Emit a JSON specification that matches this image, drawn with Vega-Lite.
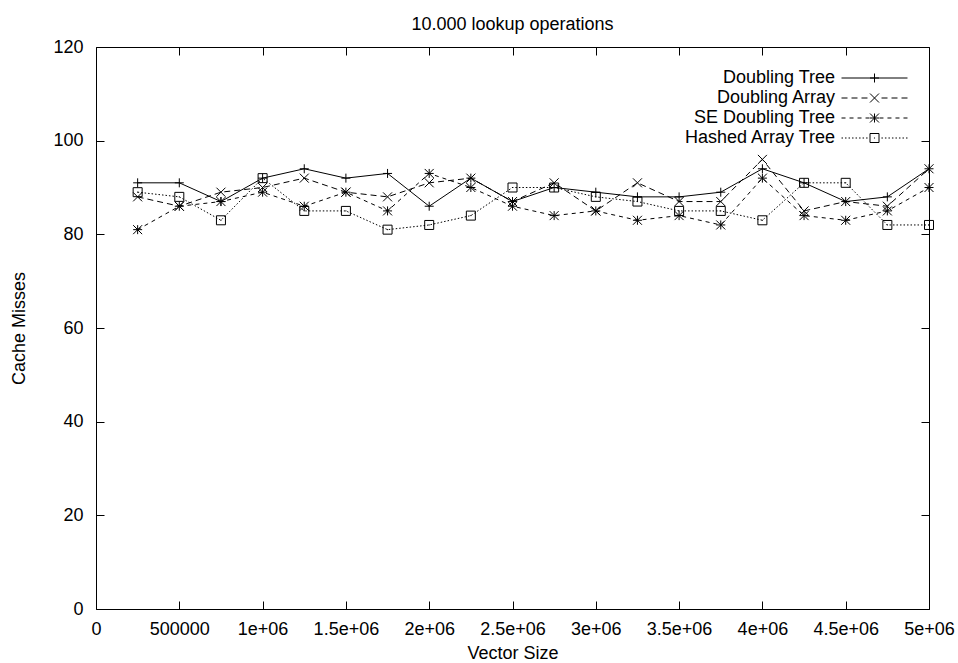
{
  "$schema": "https://vega.github.io/schema/vega-lite/v6.json",
  "width": 833,
  "height": 562,
  "autosize": "none",
  "padding": {"left": 96, "top": 47, "right": 29, "bottom": 54},
  "background": "white",
  "title": {"text": "10.000 lookup operations", "fontSize": 18, "font": "Liberation Sans", "fontWeight": "normal", "color": "black", "anchor": "middle", "frame": "group", "offset": 4},
  "config": {
    "font": "Liberation Sans",
    "view": {"stroke": "black", "strokeWidth": 1},
    "axis": {"domain": false, "grid": false, "tickColor": "black", "tickSize": -8, "tickWidth": 1, "labelFontSize": 18, "labelColor": "black", "titleFontSize": 18, "titleColor": "black", "titleFontWeight": "normal", "labelPadding": 21, "labelFlush": false, "labelOverlap": false, "labelBound": false}
  },
  "data": {"values": [
    {"x": 250000, "series": "Doubling Tree", "y": 91},
    {"x": 500000, "series": "Doubling Tree", "y": 91},
    {"x": 750000, "series": "Doubling Tree", "y": 87},
    {"x": 1000000, "series": "Doubling Tree", "y": 92},
    {"x": 1250000, "series": "Doubling Tree", "y": 94},
    {"x": 1500000, "series": "Doubling Tree", "y": 92},
    {"x": 1750000, "series": "Doubling Tree", "y": 93},
    {"x": 2000000, "series": "Doubling Tree", "y": 86},
    {"x": 2250000, "series": "Doubling Tree", "y": 92},
    {"x": 2500000, "series": "Doubling Tree", "y": 87},
    {"x": 2750000, "series": "Doubling Tree", "y": 90},
    {"x": 3000000, "series": "Doubling Tree", "y": 89},
    {"x": 3250000, "series": "Doubling Tree", "y": 88},
    {"x": 3500000, "series": "Doubling Tree", "y": 88},
    {"x": 3750000, "series": "Doubling Tree", "y": 89},
    {"x": 4000000, "series": "Doubling Tree", "y": 94},
    {"x": 4250000, "series": "Doubling Tree", "y": 91},
    {"x": 4500000, "series": "Doubling Tree", "y": 87},
    {"x": 4750000, "series": "Doubling Tree", "y": 88},
    {"x": 5000000, "series": "Doubling Tree", "y": 94},
    {"x": 250000, "series": "Doubling Array", "y": 88},
    {"x": 500000, "series": "Doubling Array", "y": 86},
    {"x": 750000, "series": "Doubling Array", "y": 89},
    {"x": 1000000, "series": "Doubling Array", "y": 90},
    {"x": 1250000, "series": "Doubling Array", "y": 92},
    {"x": 1500000, "series": "Doubling Array", "y": 89},
    {"x": 1750000, "series": "Doubling Array", "y": 88},
    {"x": 2000000, "series": "Doubling Array", "y": 91},
    {"x": 2250000, "series": "Doubling Array", "y": 92},
    {"x": 2500000, "series": "Doubling Array", "y": 87},
    {"x": 2750000, "series": "Doubling Array", "y": 91},
    {"x": 3000000, "series": "Doubling Array", "y": 85},
    {"x": 3250000, "series": "Doubling Array", "y": 91},
    {"x": 3500000, "series": "Doubling Array", "y": 87},
    {"x": 3750000, "series": "Doubling Array", "y": 87},
    {"x": 4000000, "series": "Doubling Array", "y": 96},
    {"x": 4250000, "series": "Doubling Array", "y": 85},
    {"x": 4500000, "series": "Doubling Array", "y": 87},
    {"x": 4750000, "series": "Doubling Array", "y": 86},
    {"x": 5000000, "series": "Doubling Array", "y": 94},
    {"x": 250000, "series": "SE Doubling Tree", "y": 81},
    {"x": 500000, "series": "SE Doubling Tree", "y": 86},
    {"x": 750000, "series": "SE Doubling Tree", "y": 87},
    {"x": 1000000, "series": "SE Doubling Tree", "y": 89},
    {"x": 1250000, "series": "SE Doubling Tree", "y": 86},
    {"x": 1500000, "series": "SE Doubling Tree", "y": 89},
    {"x": 1750000, "series": "SE Doubling Tree", "y": 85},
    {"x": 2000000, "series": "SE Doubling Tree", "y": 93},
    {"x": 2250000, "series": "SE Doubling Tree", "y": 90},
    {"x": 2500000, "series": "SE Doubling Tree", "y": 86},
    {"x": 2750000, "series": "SE Doubling Tree", "y": 84},
    {"x": 3000000, "series": "SE Doubling Tree", "y": 85},
    {"x": 3250000, "series": "SE Doubling Tree", "y": 83},
    {"x": 3500000, "series": "SE Doubling Tree", "y": 84},
    {"x": 3750000, "series": "SE Doubling Tree", "y": 82},
    {"x": 4000000, "series": "SE Doubling Tree", "y": 92},
    {"x": 4250000, "series": "SE Doubling Tree", "y": 84},
    {"x": 4500000, "series": "SE Doubling Tree", "y": 83},
    {"x": 4750000, "series": "SE Doubling Tree", "y": 85},
    {"x": 5000000, "series": "SE Doubling Tree", "y": 90},
    {"x": 250000, "series": "Hashed Array Tree", "y": 89},
    {"x": 500000, "series": "Hashed Array Tree", "y": 88},
    {"x": 750000, "series": "Hashed Array Tree", "y": 83},
    {"x": 1000000, "series": "Hashed Array Tree", "y": 92},
    {"x": 1250000, "series": "Hashed Array Tree", "y": 85},
    {"x": 1500000, "series": "Hashed Array Tree", "y": 85},
    {"x": 1750000, "series": "Hashed Array Tree", "y": 81},
    {"x": 2000000, "series": "Hashed Array Tree", "y": 82},
    {"x": 2250000, "series": "Hashed Array Tree", "y": 84},
    {"x": 2500000, "series": "Hashed Array Tree", "y": 90},
    {"x": 2750000, "series": "Hashed Array Tree", "y": 90},
    {"x": 3000000, "series": "Hashed Array Tree", "y": 88},
    {"x": 3250000, "series": "Hashed Array Tree", "y": 87},
    {"x": 3500000, "series": "Hashed Array Tree", "y": 85},
    {"x": 3750000, "series": "Hashed Array Tree", "y": 85},
    {"x": 4000000, "series": "Hashed Array Tree", "y": 83},
    {"x": 4250000, "series": "Hashed Array Tree", "y": 91},
    {"x": 4500000, "series": "Hashed Array Tree", "y": 91},
    {"x": 4750000, "series": "Hashed Array Tree", "y": 82},
    {"x": 5000000, "series": "Hashed Array Tree", "y": 82}
  ]},
  "layer": [
    {
      "transform": [{"filter": "datum.series === 'Doubling Tree'"}],
      "mark": {"type": "line", "stroke": "black", "strokeWidth": 1},
      "encoding": {
        "x": {"field": "x", "type": "quantitative", "scale": {"domain": [0, 5000000], "nice": false, "zero": false},
              "axis": {"orient": "bottom", "title": "Vector Size", "titlePadding": 6, "labelPadding": 19, "values": [0, 500000, 1000000, 1500000, 2000000, 2500000, 3000000, 3500000, 4000000, 4500000, 5000000],
                       "labelExpr": "datum.value == 0 ? '0' : datum.value < 1000000 ? '' + datum.value : (datum.value / 1000000) + 'e+06'"}},
        "y": {"field": "y", "type": "quantitative", "scale": {"domain": [0, 120], "nice": false, "zero": false},
              "axis": {"orient": "left", "title": "Cache Misses", "titlePadding": 24, "values": [0, 20, 40, 60, 80, 100, 120]}}
      }
    },
    {
      "transform": [{"filter": "datum.series === 'Doubling Array'"}],
      "mark": {"type": "line", "stroke": "black", "strokeWidth": 1, "strokeDash": [6, 4]},
      "encoding": {
        "x": {"field": "x", "type": "quantitative", "axis": null},
        "y": {"field": "y", "type": "quantitative", "axis": null}
      }
    },
    {
      "transform": [{"filter": "datum.series === 'SE Doubling Tree'"}],
      "mark": {"type": "line", "stroke": "black", "strokeWidth": 1, "strokeDash": [4, 4]},
      "encoding": {
        "x": {"field": "x", "type": "quantitative", "axis": null},
        "y": {"field": "y", "type": "quantitative", "axis": null}
      }
    },
    {
      "transform": [{"filter": "datum.series === 'Hashed Array Tree'"}],
      "mark": {"type": "line", "stroke": "black", "strokeWidth": 1, "strokeDash": [1.5, 2]},
      "encoding": {
        "x": {"field": "x", "type": "quantitative", "axis": null},
        "y": {"field": "y", "type": "quantitative", "axis": null}
      }
    },
    {
      "transform": [{"filter": "datum.series === 'Doubling Tree'"}],
      "mark": {"type": "point", "filled": false, "stroke": "black", "strokeWidth": 1, "size": 81, "opacity": 1, "shape": "M-1,0H1M0,-1V1"},
      "encoding": {
        "x": {"field": "x", "type": "quantitative",
              "axis": {"orient": "top", "title": null, "labels": false, "labelPadding": 0, "values": [0, 500000, 1000000, 1500000, 2000000, 2500000, 3000000, 3500000, 4000000, 4500000, 5000000]}},
        "y": {"field": "y", "type": "quantitative",
              "axis": {"orient": "right", "title": null, "labels": false, "labelPadding": 0, "values": [0, 20, 40, 60, 80, 100, 120]}}
      }
    },
    {
      "transform": [{"filter": "datum.series === 'Doubling Array'"}],
      "mark": {"type": "point", "filled": false, "stroke": "black", "strokeWidth": 1, "size": 81, "opacity": 1, "shape": "M-1,-1L1,1M-1,1L1,-1"},
      "encoding": {
        "x": {"field": "x", "type": "quantitative", "axis": null},
        "y": {"field": "y", "type": "quantitative", "axis": null}
      }
    },
    {
      "transform": [{"filter": "datum.series === 'SE Doubling Tree'"}],
      "mark": {"type": "point", "filled": false, "stroke": "black", "strokeWidth": 1, "size": 81, "opacity": 1, "shape": "M-1,0H1M0,-1V1M-1,-1L1,1M-1,1L1,-1"},
      "encoding": {
        "x": {"field": "x", "type": "quantitative", "axis": null},
        "y": {"field": "y", "type": "quantitative", "axis": null}
      }
    },
    {
      "transform": [{"filter": "datum.series === 'Hashed Array Tree'"}],
      "mark": {"type": "point", "filled": false, "stroke": "black", "strokeWidth": 1, "size": 81, "opacity": 1, "shape": "M-1,-1H1V1H-1ZM-0.12,0H0.12"},
      "encoding": {
        "x": {"field": "x", "type": "quantitative", "axis": null},
        "y": {"field": "y", "type": "quantitative", "axis": null}
      }
    },
    {
      "mark": {"type": "point", "filled": false, "stroke": "black", "strokeWidth": 1, "size": 81, "opacity": 0},
      "encoding": {
        "x": {"field": "x", "type": "quantitative", "axis": null},
        "y": {"field": "y", "type": "quantitative", "axis": null},
        "shape": {"field": "series", "type": "nominal",
          "scale": {"domain": ["Doubling Tree", "Doubling Array", "SE Doubling Tree", "Hashed Array Tree"],
                    "range": [
                      "M-7.33,0H7.33M-1,0H1M0,-1V1",
                      "M-7.33,0H-6M-5.11,0H-3.78M-2.89,0H-1.56M1.56,0H2.89M3.78,0H5.11M6,0H7.33M-1,-1L1,1M-1,1L1,-1",
                      "M-7.33,0h0.89M-5.55,0h0.89M-3.77,0h0.89M-1.99,0h0.89M1.1,0h0.89M2.88,0h0.89M4.66,0h0.89M6.44,0h0.89M-1,0H1M0,-1V1M-1,-1L1,1M-1,1L1,-1",
                      "M-7.33,0h0.33M-6.55,0h0.33M-5.77,0h0.33M-4.99,0h0.33M-4.21,0h0.33M-3.43,0h0.33M-2.65,0h0.33M-1.87,0h0.33M1.54,0h0.33M2.32,0h0.33M3.1,0h0.33M3.88,0h0.33M4.66,0h0.33M5.44,0h0.33M6.22,0h0.33M7,0h0.33M-1,-1H1V1H-1ZM-0.12,0H0.12"
                    ]},
          "legend": {"title": null, "orient": "none", "legendX": 769.5, "legendY": 22, "padding": 0, "offset": 0, "rowPadding": 2,
            "labelFontSize": 18, "labelColor": "black", "labelAlign": "right", "labelBaseline": "middle", "labelOffset": -48.5, "labelLimit": 400,
            "symbolSize": 81, "symbolStrokeWidth": 1, "symbolStrokeColor": "black", "symbolFillColor": "transparent", "symbolOpacity": 1}}
      }
    }
  ],
  "resolve": {"axis": {"x": "independent", "y": "independent"}}
}
